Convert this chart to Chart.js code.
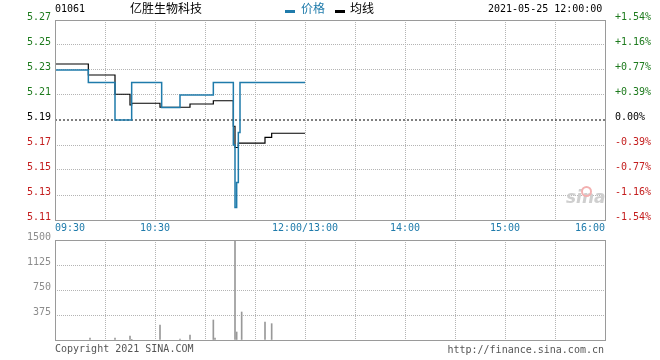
<!DOCTYPE html>
<html>
<head>
<meta charset="utf-8">
<script src="https://cdn.jsdelivr.net/npm/chart.js@4.4.1/dist/chart.umd.min.js"></script>
<style>
  body { margin: 0; background: #fff; }
  #wrap { position: relative; width: 660px; height: 360px; overflow: hidden; font-family: "DejaVu Sans Mono", monospace; font-size: 10px; color: #000; }
  #priceChart { position: absolute; left: 0; top: 0; }
  #volChart { position: absolute; left: 0; top: 230px; }
  .t { position: absolute; white-space: nowrap; line-height: 12px; }
  .cjk { font-family: "Noto Sans CJK SC", sans-serif; font-size: 12px; }
  .dash { position: absolute; width: 10px; height: 3px; }
</style>
</head>
<body>
<div id="wrap">
  <canvas id="priceChart" width="660" height="235"></canvas>
  <canvas id="volChart" width="660" height="130"></canvas>

  <div class="t" style="left:55px; top:3px;">01061</div>
  <div class="t cjk" style="left:130px; top:2px;">亿胜生物科技</div>
  <div class="dash" style="left:285px; top:10px; background:#1f7bab;"></div>
  <div class="t cjk" style="left:301px; top:2px; color:#1f7bab;">价格</div>
  <div class="dash" style="left:335px; top:10px; background:#000;"></div>
  <div class="t cjk" style="left:350px; top:2px;">均线</div>
  <div class="t" style="left:488px; top:3px;">2021-05-25 12:00:00</div>

  <div class="t" style="left:566px; top:191px; font-family:'DejaVu Sans', sans-serif; font-size:17px; font-weight:bold; font-style:italic; color:#cfcfcf;">sina</div>
  <div style="position:absolute; left:581px; top:186px; width:7px; height:7px; border:2px solid #f3b0b0; border-radius:50%;"></div>

  <div class="t" style="left:55px; top:343px; color:#555;">Copyright 2021 SINA.COM</div>
  <div class="t" style="right:56px; top:344px; color:#555;">http://finance.sina.com.cn</div>
</div>

<script>
// 亿胜生物科技 01061 分时 2021-05-25 (minutes since 09:30, lunch break removed)
const prevClose = 5.19;
const priceMin = 5.11;
const priceMax = 5.27;
const priceTicks = [5.11, 5.13, 5.15, 5.17, 5.19, 5.21, 5.23, 5.25, 5.27];

const tickMinutes = [0, 60, 150, 210, 270, 330];
const tickLabels = ['09:30', '10:30', '12:00/13:00', '14:00', '15:00', '16:00'];

// 价格 (change points)
const priceTimes = [0, 20, 36, 46, 64, 75, 95, 107, 108, 109, 110, 111, 150];
const priceValues = [5.23, 5.22, 5.19, 5.22, 5.20, 5.21, 5.22, 5.17, 5.12, 5.14, 5.18, 5.22, 5.22];

// 均线 (change points)
const avgTimes = [0, 20, 36, 45, 46, 63, 81, 95, 107, 108, 110, 126, 130, 150];
const avgValues = [5.2348, 5.226, 5.2106, 5.202, 5.2034, 5.2002, 5.2028, 5.2054, 5.185, 5.168, 5.1715, 5.1761, 5.1794, 5.1794];

// 成交量
const volTimes = [21, 36, 45, 46, 63, 75, 81, 95, 96, 108, 109, 112, 126, 130];
const volValues = [30, 30, 60, 10, 225, 15, 75, 300, 30, 1500, 120, 420, 270, 245];
const volTicks = [0, 375, 750, 1125, 1500];

const colors = {
    price: '#1f7bab',
    avg: '#000000',
    up: '#1e7b1e',
    down: '#c41e1e',
    grid: '#b4b4b4',
    frame: '#9a9a9a',
    vol: '#999999',
    volText: '#8c8c8c'
};

const monoFont = { family: 'DejaVu Sans Mono', size: 10 };

function toPoints(xs, ys) {
    return xs.map((x, i) => ({ x: x, y: ys[i] }));
}

// plot frame
const framePlugin = {
    id: 'frame',
    afterDraw(chart) {
        const a = chart.chartArea;
        const c = chart.ctx;
        c.save();
        c.strokeStyle = colors.frame;
        c.lineWidth = 1;
        c.strokeRect(a.left + 0.5, a.top + 0.5, a.right - a.left, a.bottom - a.top);
        c.restore();
    }
};

const xGrid = {
    type: 'linear',
    min: 0,
    max: 330,
    offset: false,
    grid: { color: colors.grid, drawTicks: false, offset: false },
    border: { display: false, dash: [1, 1] }
};

function levelColor(v) {
    if (Math.abs(v - prevClose) < 1e-6) return '#000';
    return v > prevClose ? colors.up : colors.down;
}

// 分时图
new Chart(document.getElementById('priceChart'), {
    type: 'line',
    data: {
        datasets: [{
            label: '价格',
            data: toPoints(priceTimes, priceValues),
            borderColor: colors.price,
            borderWidth: 1.5,
            stepped: true,
            pointRadius: 0,
            yAxisID: 'y'
        }, {
            label: '均线',
            data: toPoints(avgTimes, avgValues),
            borderColor: colors.avg,
            borderWidth: 1.2,
            stepped: true,
            pointRadius: 0,
            yAxisID: 'y'
        }, {
            label: '昨收',
            data: toPoints([0, 330], [prevClose, prevClose]),
            borderColor: '#000',
            borderWidth: 1,
            borderDash: [2, 2],
            pointRadius: 0,
            yAxisID: 'y'
        }]
    },
    options: {
        responsive: false,
        animation: false,
        layout: { padding: { top: 20, left: 0, right: 0, bottom: 0 } },
        plugins: { legend: { display: false }, tooltip: { enabled: false } },
        scales: {
            x: Object.assign({}, xGrid, {
                ticks: {
                    stepSize: 30,
                    autoSkip: false,
                    maxRotation: 0,
                    align: 'inner',
                    padding: 2,
                    color: colors.price,
                    font: monoFont,
                    callback: function(value) {
                        const i = tickMinutes.indexOf(value);
                        return i >= 0 ? tickLabels[i] : '';
                    }
                },
                afterFit: s => { s.height = 15; }
            }),
            y: {
                position: 'left',
                min: priceMin,
                max: priceMax,
                afterBuildTicks: s => { s.ticks = priceTicks.map(v => ({ value: v })); },
                afterFit: s => { s.width = 55; },
                grid: {
                    drawTicks: false,
                    color: ctx => (ctx.tick && Math.abs(ctx.tick.value - prevClose) < 1e-6) ? 'rgba(0,0,0,0)' : colors.grid
                },
                border: { display: false, dash: [1, 1] },
                ticks: {
                    padding: 4,
                    labelOffset: -3,
                    font: monoFont,
                    color: ctx => levelColor(ctx.tick.value),
                    callback: v => v.toFixed(2)
                }
            },
            y1: {
                position: 'right',
                min: priceMin,
                max: priceMax,
                afterBuildTicks: s => { s.ticks = priceTicks.map(v => ({ value: v })); },
                afterFit: s => { s.width = 55; },
                grid: { display: false },
                border: { display: false },
                ticks: {
                    padding: 2,
                    labelOffset: -3,
                    font: monoFont,
                    color: ctx => levelColor(ctx.tick.value),
                    callback: function(v) {
                        const pct = (v - prevClose) / prevClose * 100;
                        if (Math.abs(pct) < 1e-6) return '0.00%';
                        return (pct > 0 ? '+' : '') + pct.toFixed(2) + '%';
                    }
                }
            }
        }
    },
    plugins: [framePlugin]
});

// 成交量
new Chart(document.getElementById('volChart'), {
    type: 'bar',
    data: {
        datasets: [{
            label: '成交量',
            data: toPoints(volTimes, volValues),
            backgroundColor: colors.vol,
            barThickness: 1
        }]
    },
    options: {
        responsive: false,
        animation: false,
        layout: { padding: { top: 10, left: 0, right: 55, bottom: 20 } },
        plugins: { legend: { display: false }, tooltip: { enabled: false } },
        scales: {
            x: Object.assign({}, xGrid, {
                ticks: { display: false, stepSize: 30, autoSkip: false },
                afterFit: s => { s.height = 0; }
            }),
            y: {
                min: 0,
                max: 1500,
                afterBuildTicks: s => { s.ticks = volTicks.map(v => ({ value: v })); },
                afterFit: s => { s.width = 55; },
                grid: { drawTicks: false, color: colors.grid },
                border: { display: false, dash: [1, 1] },
                ticks: {
                    padding: 4,
                    labelOffset: -3,
                    font: monoFont,
                    color: colors.volText,
                    callback: v => v === 0 ? '' : String(v)
                }
            }
        }
    },
    plugins: [framePlugin]
});
</script>
</body>
</html>
